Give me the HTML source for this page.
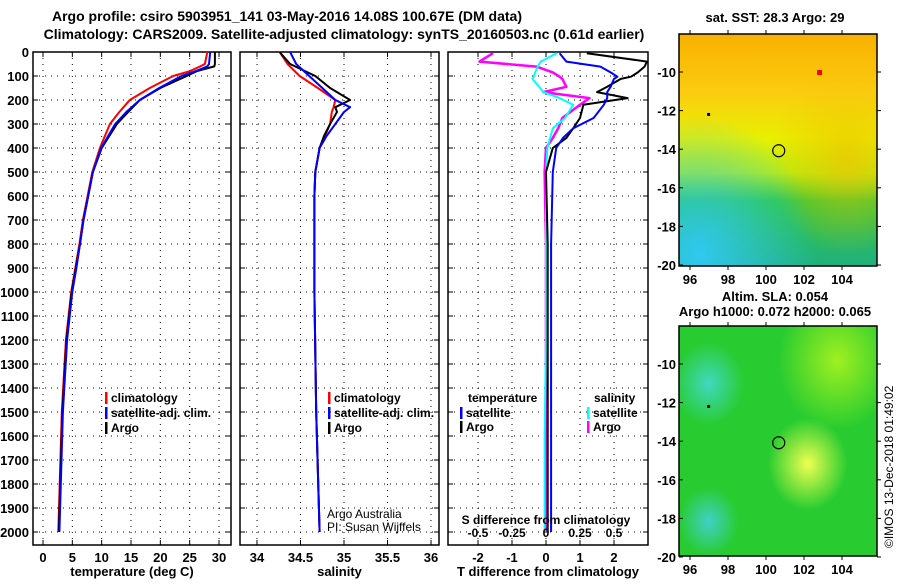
<!DOCTYPE html>
<html><head><meta charset="utf-8"><style>
body{margin:0;background:#fff;}
svg{font-family:"Liberation Sans",sans-serif;font-weight:bold;}
</style></head><body>
<svg id="c" width="900" height="580" xmlns="http://www.w3.org/2000/svg">
<defs>
<linearGradient id="sstg" x1="0" y1="0" x2="0" y2="1">
<stop offset="0" stop-color="#f8b000"/><stop offset="0.25" stop-color="#fbcc10"/><stop offset="0.45" stop-color="#e8f000"/>
<stop offset="0.6" stop-color="#b8ee10"/><stop offset="0.72" stop-color="#30c838"/><stop offset="1" stop-color="#20b080"/>
</linearGradient>
<radialGradient id="cy1" cx="0.1" cy="0.95" r="0.6"><stop offset="0" stop-color="#30c8f0" stop-opacity="1"/><stop offset="1" stop-color="#30c8f0" stop-opacity="0"/></radialGradient>
<radialGradient id="ye1" cx="0.85" cy="0.55" r="0.4"><stop offset="0" stop-color="#f0c000" stop-opacity="0.7"/><stop offset="1" stop-color="#f0c000" stop-opacity="0"/></radialGradient>
<radialGradient id="b1" cx="0.65" cy="0.6" r="0.2"><stop offset="0" stop-color="#f0ff50"/><stop offset="1" stop-color="#f0ff50" stop-opacity="0"/></radialGradient>
<radialGradient id="b2" cx="0.15" cy="0.25" r="0.18"><stop offset="0" stop-color="#40d8c0"/><stop offset="1" stop-color="#40d8c0" stop-opacity="0"/></radialGradient>
<radialGradient id="b3" cx="0.15" cy="0.85" r="0.15"><stop offset="0" stop-color="#40d0c8"/><stop offset="1" stop-color="#40d0c8" stop-opacity="0"/></radialGradient>
<radialGradient id="b4" cx="0.8" cy="0.15" r="0.3"><stop offset="0" stop-color="#a0f020"/><stop offset="1" stop-color="#a0f020" stop-opacity="0"/></radialGradient>
</defs>
</svg>
<script>
// ---- data ----
const tDepth   = [0,50,60,80,100,150,200,250,300,400,500,600,700,800,900,1000,1200,1500,2000];
const tArgo    = [29.3,29.3,29.2,26.2,24.5,20,16.5,14.5,12.6,10,8.5,7.7,6.9,6.3,5.6,4.9,4.0,3.3,2.7];
const tClim    = [28,27.6,26.8,25,22.2,18.2,14.8,13,11.4,9.7,8.4,7.6,6.8,6.2,5.5,4.8,3.9,3.2,2.6];
const tSat     = [28.5,28.3,28,26,23.6,19.8,16.5,14.2,12.3,9.9,8.5,7.7,6.9,6.3,5.7,5.0,4.1,3.4,2.8];
const sDepth   = [0,50,100,150,200,230,250,300,350,400,500,600,1000,1500,2000];
const sArgo    = [34.26,34.38,34.67,34.84,35.07,34.9,34.92,34.84,34.77,34.72,34.67,34.66,34.66,34.68,34.72];
const sClim    = [34.26,34.35,34.49,34.7,34.9,34.88,34.86,34.84,34.78,34.72,34.67,34.66,34.66,34.68,34.72];
const sSat     = [34.38,34.45,34.6,34.75,34.9,35.07,35.0,34.9,34.8,34.72,34.67,34.66,34.66,34.68,34.72];
const dDepth   = [5,40,61,85,103,112,145,167,192,220,275,318,358,400,500,800,1200,1600,2000];
const dTArgo   = [1.2,3.0,2.9,2.7,2.5,2.2,1.8,1.5,2.4,1.1,1.0,0.8,0.6,0.2,0.0,0.05,0.05,0.05,0.05];
const dTSat    = [0.4,0.6,1.6,1.9,2.1,2.0,1.9,1.8,1.8,1.7,1.4,0.8,0.5,0.3,0.2,0.15,0.15,0.15,0.15];
const dSArgo   = [-0.39,-0.49,-0.07,0.05,0.1,0.12,0.15,-0.02,0.32,0.25,0.12,0.09,0.05,0.0,-0.01,0,0,0,0];
const dSSat    = [0.08,-0.04,-0.06,-0.08,-0.09,-0.1,-0.05,-0.02,0.1,0.2,0.14,0.05,0.03,0.01,0,0,0,-0.01,-0.01];
const depthTicks = [0,100,200,300,400,500,600,700,800,900,1000,1100,1200,1300,1400,1500,1600,1700,1800,1900,2000];
const tTicks = [0,5,10,15,20,25,30];
const sTicks = [34,34.5,35,35.5,36];
const sTickLabels = ["34","34.5","35","35.5","36"];
const dTTicks = [-2,-1,0,1,2];
const dSTicks = [-0.5,-0.25,0,0.25,0.5];
const dSTickLabels = ["-0.5","-0.25","0","0.25","0.5"];
const latTicks = [-10,-12,-14,-16,-18,-20];
const lonTicks = [96,98,100,102,104];
const floatLon = 100.67, floatLat = -14.08;

// ---- helpers ----
const svg=document.getElementById('c');
const NS='http://www.w3.org/2000/svg';
function el(tag,attrs,parent,text){const e=document.createElementNS(NS,tag);for(const k in attrs)e.setAttribute(k,attrs[k]);if(text!==undefined)e.textContent=text;(parent||svg).appendChild(e);return e;}
const top0=52, pxPer100=24, bot=545;
const yD=d=>top0+d*pxPer100/100;

function panel(name,x0,x1,xs,ticks,labels,showY,title){
  const g=el('g',{},svg);
  
  
  ticks.forEach(t=>{const x=xs(t);el('line',{x1:x,x2:x,y1:top0,y2:bot,stroke:'#000','stroke-dasharray':'1,5','stroke-width':1},g);});
  depthTicks.forEach(d=>{const y=yD(d);el('line',{x1:x0,x2:x1,y1:y,y2:y,stroke:'#000','stroke-dasharray':'1,5','stroke-width':1},g);
    el('line',{x1:x0,x2:x0+5,y1:y,y2:y,stroke:'#000'},g);el('line',{x1:x1-5,x2:x1,y1:y,y2:y,stroke:'#000'},g);
    if(showY){const t=el('text',{x:x0-4,y:y+5,'text-anchor':'end','font-size':13},g,String(d));}
  });
  ticks.forEach((t,i)=>{const x=xs(t);el('line',{x1:x,x2:x,y1:bot,y2:bot-5,stroke:'#000'},g);el('line',{x1:x,x2:x,y1:top0,y2:top0+5,stroke:'#000'},g);
    if(labels){const tx=el('text',{x:x,y:bot+17,'text-anchor':'middle','font-size':13},g,labels[i]);}});
  el('rect',{x:x0,y:top0,width:x1-x0,height:bot-top0,fill:'none',stroke:'#000','stroke-width':1.5},g);
  if(title){const tt=el('text',{x:(x0+x1)/2,y:576,'text-anchor':'middle','font-size':13},g,title);}
  return g;
}
function line(g,xs,depths,vals,color,w,name,clip){
  const pts=depths.map((d,i)=>{let x=xs(vals[i]);if(clip)x=Math.max(clip[0],Math.min(clip[1],x));return x.toFixed(1)+','+yD(d).toFixed(1);}).join(' ');
  const p=el('polyline',{points:pts,fill:'none',stroke:color,'stroke-width':w,'stroke-linejoin':'round'},g);
  
  
}
function legend(g,x,y,color,text,name){
  el('rect',{x:x,y:y-10,width:2.5,height:12,fill:color},g);
  const t=el('text',{x:x+6,y:y,'font-size':12},g,text);
  
  
}

const t1=el('text',{x:287,y:21,'text-anchor':'middle','font-size':14},svg,'Argo profile: csiro 5903951_141 03-May-2016 14.08S 100.67E (DM data)');


const t2=el('text',{x:344,y:39,'text-anchor':'middle','font-size':14},svg,'Climatology: CARS2009. Satellite-adjusted climatology: synTS_20160503.nc (0.61d earlier)');



const xT=v=>43+v*5.867;
const g1=panel('temperature-panel',33,231,xT,tTicks,tTicks.map(String),true,'temperature (deg C)');
line(g1,xT,tDepth,tClim,'#f00',2,'temperature-climatology-line');
line(g1,xT,tDepth,tArgo,'#000',2,'temperature-argo-line');
line(g1,xT,tDepth,tSat,'#00f',2,'temperature-satellite-line');
legend(g1,105,402,'#f00','climatology','legend-climatology');
legend(g1,105,417,'#00f','satellite-adj. clim.','legend-satellite');
legend(g1,105,432,'#000','Argo','legend-argo');

const xS=v=>257+(v-34)*87;
const g2=panel('salinity-panel',240,439,xS,sTicks,sTickLabels,false,'salinity');
line(g2,xS,sDepth,sClim,'#f00',2,'salinity-climatology-line');
line(g2,xS,sDepth,sArgo,'#000',2,'salinity-argo-line');
line(g2,xS,sDepth,sSat,'#00f',2,'salinity-satellite-line');
legend(g2,328,402,'#f00','climatology','legend-climatology');
legend(g2,328,417,'#00f','satellite-adj. clim.','legend-satellite');
legend(g2,328,432,'#000','Argo','legend-argo');
const cr1=el('text',{x:327,y:518,'font-size':12,'font-weight':'normal'},g2,'Argo Australia');

const cr2=el('text',{x:327,y:531,'font-size':12,'font-weight':'normal'},g2,'PI: Susan Wijffels');


const xDT=v=>546+v*34;
const xDS=v=>546+v*136;
const g3=panel('difference-panel',448,648,xDT,dTTicks,dTTicks.map(String),false,'T difference from climatology');
const clip=[449,647];
line(g3,xDS,dDepth,dSArgo,'#f0f',2.5,'salinity-diff-argo-line',clip);
line(g3,xDS,dDepth,dSSat,'#0ff',2,'salinity-diff-satellite-line',clip);
line(g3,xDT,dDepth,dTArgo,'#000',2,'temperature-diff-argo-line',clip);
line(g3,xDT,dDepth,dTSat,'#00f',2,'temperature-diff-satellite-line',clip);
dSTicks.forEach((t,i)=>{const tx=el('text',{x:xDS(t),y:537,'text-anchor':'middle','font-size':12},g3,dSTickLabels[i]);});
const sdt=el('text',{x:546,y:524,'text-anchor':'middle','font-size':12},g3,'S difference from climatology');

const lt=el('text',{x:468,y:402,'font-size':12},g3,'temperature');
const ls=el('text',{x:594,y:402,'font-size':12},g3,'salinity');
legend(g3,460,417,'#00f','satellite','legend-t-satellite');
legend(g3,460,431,'#000','Argo','legend-t-argo');
legend(g3,587,417,'#0ff','satellite','legend-s-satellite');
legend(g3,587,431,'#f0f','Argo','legend-s-argo');

function map(name,y0,y1,fillFn,titles){
  const x0=679,x1=877;
  const lonX=l=>690+(l-96)*19, latY=l=>y0+38+(-10-l)*19.3;
  const g=el('g',{},svg);
  
  
  fillFn(g,x0,y0,x1-x0,y1-y0);
  latTicks.forEach(l=>{const y=latY(l);el('line',{x1:x0,x2:x0+4,y1:y,y2:y,stroke:'#000'},g);el('line',{x1:x1,x2:x1+4,y1:y,y2:y,stroke:'#000'},g);
    const t=el('text',{x:x0-3,y:y+5,'text-anchor':'end','font-size':13},g,String(l));});
  lonTicks.forEach(l=>{const x=lonX(l);el('line',{x1:x,x2:x,y1:y1,y2:y1+4,stroke:'#000'},g);el('line',{x1:x,x2:x,y1:y0,y2:y0-4,stroke:'#000'},g);
    const t=el('text',{x:x,y:y1+18,'text-anchor':'middle','font-size':13},g,String(l));});
  el('rect',{x:x0,y:y0,width:x1-x0,height:y1-y0,fill:'none',stroke:'#000','stroke-width':1.5},g);
  const c=el('circle',{cx:lonX(floatLon),cy:latY(floatLat),r:6,fill:'none',stroke:'#000','stroke-width':1.2},g);
  
  el('rect',{x:lonX(96.9),y:latY(-12.2)-1.5,width:3,height:3,fill:'#000'},g);
  titles.forEach(([ty,tx])=>{const t=el('text',{x:775,y:ty,'text-anchor':'middle','font-size':13},g,tx);});
}
map('sst-map',34,266,(g,x,y,w,h)=>{el('rect',{x,y,width:w,height:h,fill:'url(#sstg)'},g);el('rect',{x,y,width:w,height:h,fill:'url(#ye1)'},g);el('rect',{x,y,width:w,height:h,fill:'url(#cy1)'},g);
  el('rect',{x:x+138,y:y+36,width:5,height:5,fill:'#f00'},g);},[[22,'sat. SST: 28.3 Argo: 29']]);
map('sla-map',326,556,(g,x,y,w,h)=>{el('rect',{x,y,width:w,height:h,fill:'#28cc30'},g);['b4','b1','b2','b3'].forEach(id=>el('rect',{x,y,width:w,height:h,fill:'url(#'+id+')'},g));},[[301,'Altim. SLA: 0.054'],[316,'Argo h1000: 0.072 h2000: 0.065']]);

const cp=el('text',{x:0,y:0,'font-size':12,'font-weight':'normal',transform:'translate(893,548) rotate(-90)'},svg,'©IMOS 13-Dec-2018 01:49:02');


</script>
</body></html>
